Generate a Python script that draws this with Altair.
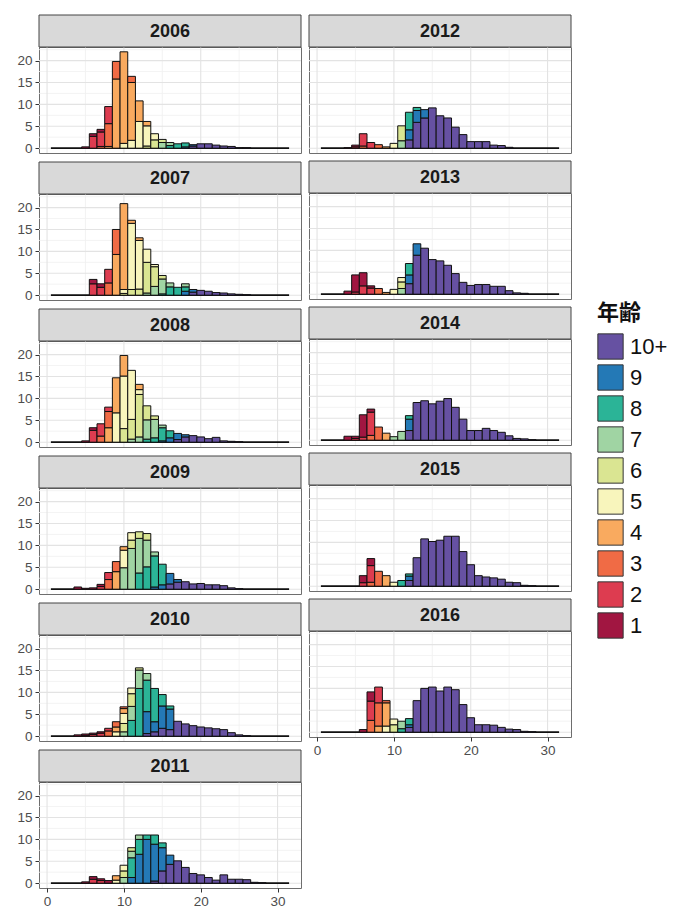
import altair as alt
import pandas as pd

AGES = ["1", "2", "3", "4", "5", "6", "7", "8", "9", "10+"]
AGE_COLORS = ["#A11641", "#DD3C50", "#F06B45", "#F9AA5F", "#F8F5BC",
              "#DAE592", "#A0D4A3", "#2BB497", "#2479B6", "#6651A2"]
BIN_CENTERS = list(range(1, 32))
YEARS_LEFT = [2006, 2007, 2008, 2009, 2010, 2011]
YEARS_RIGHT = [2012, 2013, 2014, 2015, 2016]
X_MAJOR = [0, 10, 20, 30]
X_MINOR = [5, 15, 25]
Y_MAJOR = [0, 5, 10, 15, 20]
Y_MINOR = [2.5, 7.5, 12.5, 17.5, 22.5]

# counts per bin: {bin centre: {age: count}}
C2006 = {5: {"1": 0.3}, 6: {"2": 2.7, "1": 0.6}, 7: {"3": 0.4, "2": 3.3, "1": 0.6},
         8: {"4": 0.4, "3": 5.2, "2": 3.9}, 9: {"4": 15.8, "3": 4.0}, 10: {"5": 1.1, "4": 20.9},
         11: {"5": 1.8, "4": 13.2, "3": 1.4}, 12: {"5": 6.1, "4": 4.7}, 13: {"6": 0.5, "5": 4.6, "4": 1.0},
         14: {"6": 1.9, "5": 1.4}, 15: {"7": 1.3, "6": 0.7}, 16: {"8": 0.6, "7": 0.7}, 17: {"8": 1.0},
         18: {"9": 0.3, "8": 0.9}, 19: {"10+": 0.5, "9": 0.3}, 20: {"10+": 1.0}, 21: {"10+": 1.0},
         22: {"10+": 0.7}, 23: {"10+": 0.5}, 24: {"10+": 0.4}, 25: {"10+": 0.1}, 26: {"10+": 0.1}}
C2007 = {6: {"2": 2.6, "1": 1.0}, 7: {"2": 1.8, "1": 0.8}, 8: {"3": 2.8, "2": 3.1}, 9: {"4": 9.3, "3": 5.7},
         10: {"6": 0.4, "5": 0.9, "4": 19.6}, 11: {"6": 1.3, "5": 15.1, "4": 0.7},
         12: {"6": 1.4, "5": 11.1, "4": 0.6}, 13: {"7": 0.5, "6": 7.0, "5": 3.0},
         14: {"7": 2.0, "6": 4.5, "5": 0.5}, 15: {"8": 0.3, "7": 3.4, "6": 0.8}, 16: {"8": 1.9, "7": 0.9},
         17: {"8": 1.8}, 18: {"9": 0.9, "8": 1.0, "7": 0.7}, 19: {"10+": 0.7, "9": 0.6}, 20: {"10+": 1.1},
         21: {"10+": 0.9}, 22: {"10+": 0.6}, 23: {"10+": 0.5}, 24: {"10+": 0.3}, 25: {"10+": 0.2},
         26: {"10+": 0.1}}
C2008 = {5: {"1": 0.3}, 6: {"2": 2.7, "1": 0.6}, 7: {"3": 1.4, "2": 2.8}, 8: {"4": 3.3, "3": 3.7, "2": 1.0},
         9: {"5": 6.7, "4": 8.0}, 10: {"6": 3.1, "5": 12.0, "4": 4.7}, 11: {"7": 0.7, "6": 4.5, "5": 11.2},
         12: {"7": 1.2, "6": 9.7, "5": 1.1, "4": 1.2}, 13: {"8": 0.7, "7": 4.4, "6": 3.2},
         14: {"8": 1.0, "7": 4.2, "6": 0.8}, 15: {"9": 0.3, "8": 3.0, "7": 0.6}, 16: {"9": 1.0, "8": 1.6},
         17: {"10+": 0.6, "9": 1.4}, 18: {"10+": 1.2, "9": 0.5}, 19: {"10+": 1.5}, 20: {"10+": 1.2},
         21: {"10+": 0.8}, 22: {"10+": 1.1}, 23: {"10+": 0.3}, 24: {"10+": 0.2}, 25: {"10+": 0.1}}
C2009 = {4: {"1": 0.5}, 5: {"1": 0.2}, 6: {"1": 0.3}, 7: {"2": 0.6, "1": 0.5}, 8: {"3": 2.2, "2": 1.6},
         9: {"4": 4.0, "3": 2.3}, 10: {"7": 4.9, "5": 4.0, "4": 0.8}, 11: {"7": 9.3, "6": 1.9, "5": 1.7},
         12: {"8": 3.7, "7": 7.9, "6": 1.5}, 13: {"8": 5.1, "7": 6.1, "6": 1.5},
         14: {"9": 0.5, "8": 7.1, "7": 0.9}, 15: {"9": 1.0, "8": 4.7}, 16: {"10+": 1.2, "9": 2.4},
         17: {"10+": 1.6, "9": 0.6}, 18: {"10+": 1.7}, 19: {"10+": 1.2}, 20: {"10+": 1.3},
         21: {"10+": 1.0}, 22: {"10+": 1.0}, 23: {"10+": 0.8}, 24: {"10+": 0.3}, 25: {"10+": 0.1}}
C2010 = {4: {"1": 0.3}, 5: {"2": 0.2, "1": 0.3}, 6: {"2": 0.4, "1": 0.3}, 7: {"2": 0.7, "1": 0.3},
         8: {"3": 1.2, "2": 0.6}, 9: {"5": 1.0, "4": 1.1, "3": 1.2},
         10: {"7": 1.0, "6": 1.9, "5": 2.3, "4": 1.1, "3": 0.4}, 11: {"8": 3.6, "7": 3.2, "6": 2.9, "5": 1.3},
         12: {"8": 10.9, "7": 4.2, "6": 0.5}, 13: {"10+": 0.6, "9": 5.0, "8": 7.2, "7": 1.5},
         14: {"10+": 1.0, "9": 2.3, "8": 7.6}, 15: {"10+": 1.8, "9": 5.1, "8": 2.6},
         16: {"10+": 1.5, "9": 4.7, "8": 0.7}, 17: {"10+": 3.4}, 18: {"10+": 2.8}, 19: {"10+": 2.4},
         20: {"10+": 2.1}, 21: {"10+": 1.9}, 22: {"10+": 1.7}, 23: {"10+": 1.5}, 24: {"10+": 0.8},
         25: {"10+": 0.3}, 26: {"10+": 0.1}}
C2011 = {5: {"1": 0.3}, 6: {"2": 0.9, "1": 0.6}, 7: {"2": 0.6, "1": 0.4}, 8: {"1": 0.6},
         9: {"5": 0.7, "4": 1.0}, 10: {"7": 1.3, "6": 1.5, "5": 1.3}, 11: {"9": 1.3, "8": 4.5, "7": 1.5, "6": 0.8},
         12: {"9": 6.6, "8": 3.4, "7": 1.0}, 13: {"9": 10.0, "8": 1.0}, 14: {"10+": 0.5, "9": 8.4, "8": 2.1},
         15: {"10+": 2.8, "9": 5.3, "8": 1.1}, 16: {"10+": 4.3, "9": 2.1}, 17: {"10+": 5.1}, 18: {"10+": 3.6},
         19: {"10+": 2.2}, 20: {"10+": 1.9}, 21: {"10+": 1.3}, 22: {"10+": 0.7}, 23: {"10+": 1.9},
         24: {"10+": 0.9}, 25: {"10+": 0.9}, 26: {"10+": 0.8}, 27: {"10+": 0.2}, 28: {"10+": 0.1}}
C2012 = {4: {"1": 0.1}, 5: {"2": 0.3, "1": 0.4}, 6: {"3": 0.5, "2": 2.8}, 7: {"2": 1.3}, 8: {"3": 0.8},
         9: {"4": 0.3}, 10: {"5": 1.1}, 11: {"7": 1.7, "6": 3.4}, 12: {"10+": 1.9, "9": 2.3, "8": 4.0},
         13: {"10+": 5.9, "9": 2.7, "8": 0.7}, 14: {"10+": 6.9, "9": 1.9}, 15: {"10+": 9.2},
         16: {"10+": 7.4}, 17: {"10+": 6.9}, 18: {"10+": 4.8}, 19: {"10+": 3.1}, 20: {"10+": 1.5},
         21: {"10+": 1.5}, 22: {"10+": 1.5}, 23: {"10+": 0.7}, 24: {"10+": 0.6}, 25: {"10+": 0.2}}
C2013 = {4: {"1": 0.7}, 5: {"2": 0.5, "1": 3.9}, 6: {"2": 1.9, "1": 3.0}, 7: {"2": 1.4, "1": 0.5},
         8: {"3": 1.3}, 9: {"4": 0.4}, 10: {"5": 1.1}, 11: {"7": 1.3, "6": 1.5, "5": 1.0},
         12: {"10+": 2.4, "9": 2.0, "8": 2.6}, 13: {"10+": 8.9, "9": 2.6}, 14: {"10+": 10.5},
         15: {"10+": 7.9}, 16: {"10+": 7.6}, 17: {"10+": 6.6}, 18: {"10+": 4.7}, 19: {"10+": 2.7},
         20: {"10+": 2.0}, 21: {"10+": 2.2}, 22: {"10+": 2.2}, 23: {"10+": 1.8}, 24: {"10+": 1.8},
         25: {"10+": 0.8}, 26: {"10+": 0.3}, 27: {"10+": 0.2}}
C2014 = {4: {"1": 0.9}, 5: {"2": 0.4, "1": 0.5}, 6: {"2": 0.7, "1": 5.1}, 7: {"3": 1.1, "2": 5.3, "1": 0.7},
         8: {"3": 3.0}, 9: {"4": 1.6}, 10: {"7": 0.8}, 11: {"7": 2.0}, 12: {"10+": 2.2, "9": 2.6, "8": 0.8},
         13: {"10+": 8.6}, 14: {"10+": 9.0}, 15: {"10+": 8.3}, 16: {"10+": 8.9}, 17: {"10+": 9.5},
         18: {"10+": 7.5}, 19: {"10+": 4.8}, 20: {"10+": 2.2}, 21: {"10+": 2.2}, 22: {"10+": 2.7},
         23: {"10+": 2.2}, 24: {"10+": 1.8}, 25: {"10+": 1.0}, 26: {"10+": 0.4}, 27: {"10+": 0.3},
         28: {"10+": 0.1}}
C2015 = {6: {"2": 0.8, "1": 1.6}, 7: {"3": 0.9, "2": 3.8, "1": 1.6}, 8: {"3": 3.4}, 9: {"4": 2.4},
         10: {"5": 0.9}, 11: {"8": 1.3}, 12: {"10+": 1.3, "9": 1.0, "8": 0.5}, 13: {"10+": 6.5},
         14: {"10+": 10.8}, 15: {"10+": 10.2}, 16: {"10+": 10.5}, 17: {"10+": 11.4}, 18: {"10+": 11.4},
         19: {"10+": 7.9}, 20: {"10+": 4.9}, 21: {"10+": 2.4}, 22: {"10+": 2.1}, 23: {"10+": 1.9},
         24: {"10+": 1.6}, 25: {"10+": 0.9}, 26: {"10+": 0.8}, 27: {"10+": 0.2}, 28: {"10+": 0.1}}
C2016 = {6: {"1": 0.6}, 7: {"3": 2.7, "2": 4.4, "1": 2.1}, 8: {"4": 1.4, "3": 5.3, "2": 3.6},
         9: {"5": 1.4, "4": 5.3, "3": 0.5}, 10: {"6": 1.7, "5": 1.3}, 11: {"8": 0.8, "7": 1.7},
         12: {"10+": 1.1, "9": 0.6, "8": 1.4}, 13: {"10+": 7.2}, 14: {"10+": 10.0}, 15: {"10+": 10.3},
         16: {"10+": 9.4}, 17: {"10+": 10.3}, 18: {"10+": 9.7}, 19: {"10+": 6.3}, 20: {"10+": 3.3},
         21: {"10+": 1.7}, 22: {"10+": 1.7}, 23: {"10+": 1.6}, 24: {"10+": 1.1}, 25: {"10+": 0.7},
         26: {"10+": 0.6}, 27: {"10+": 0.2}, 28: {"10+": 0.1}}

COUNTS = {2006: C2006, 2007: C2007, 2008: C2008, 2009: C2009, 2010: C2010, 2011: C2011,
          2012: C2012, 2013: C2013, 2014: C2014, 2015: C2015, 2016: C2016}

# ---- derived frames -------------------------------------------------------
def stack_frame(year):
    rows = []
    for b in BIN_CENTERS:
        segs = COUNTS[year].get(b, {})
        base = 0.0
        for age in reversed(AGES):          # oldest at the bottom, age 1 on top
            v = segs.get(age, 0)
            if v > 0:
                rows.append(dict(age=age, lo=b - 0.5, hi=b + 0.5, y0=base, y1=base + v))
                base += v
    return pd.DataFrame(rows)

FRAMES = {y: stack_frame(y) for y in COUNTS}
x_lo, x_hi = BIN_CENTERS[0] - 0.5, BIN_CENTERS[-1] + 0.5
x_pad = 0.05 * (x_hi - x_lo)
X_DOMAIN = [x_lo - x_pad, x_hi + x_pad]
y_max = max(f["y1"].max() for f in FRAMES.values())
Y_DOMAIN = [-0.05 * y_max, y_max * 1.05]

W, HS, HP = 262, 32, 106
GAP_V, GAP_H = 5, 4
MAJOR_GRID = "#E3E3E3"
MINOR_GRID = "#F0F0F0"

color_scale = alt.Scale(domain=AGES[::-1], range=AGE_COLORS[::-1])
legend = alt.Legend(title="年齢", orient="none", legendX=558, legendY=256,
                    symbolType="square", symbolSize=640, symbolStrokeColor="#333333",
                    symbolStrokeWidth=1, symbolOpacity=1, labelFontSize=22,
                    labelFont="Liberation Sans", labelColor="#111111", labelOffset=6,
                    titleFontSize=22, titleFont="Noto Sans CJK JP", titleFontWeight="bold",
                    titleColor="#111111", titlePadding=8, rowPadding=0)


def x_axis(show):
    if not show:
        return None
    return alt.Axis(values=X_MAJOR, title=None, domain=False, grid=False,
                    labelFontSize=13.5, labelColor="#4D4D4D", labelFont="Liberation Sans",
                    tickColor="#333333", tickSize=4, labelPadding=2)


def y_axis(show):
    if not show:
        return None
    return alt.Axis(values=Y_MAJOR, title=None, domain=False, grid=False,
                    labelFontSize=13.5, labelColor="#4D4D4D", labelFont="Liberation Sans",
                    tickColor="#333333", tickSize=4, labelPadding=3)


def panel(year, show_y, show_x):
    xs = alt.Scale(domain=X_DOMAIN, nice=False, zero=False)
    ys = alt.Scale(domain=Y_DOMAIN, nice=False, zero=False)
    xa, ya = x_axis(show_x), y_axis(show_y)

    def xenc(field):
        return alt.X(field, scale=xs, axis=xa) if xa is not None else alt.X(field, scale=xs, axis=None)

    def yenc(field):
        return alt.Y(field, scale=ys, axis=ya) if ya is not None else alt.Y(field, scale=ys, axis=None)

    vminor = alt.Chart(pd.DataFrame({"v": X_MINOR})).mark_rule(
        color=MINOR_GRID, strokeWidth=0.8).encode(x=xenc("v:Q"))
    hminor = alt.Chart(pd.DataFrame({"v": Y_MINOR})).mark_rule(
        color=MINOR_GRID, strokeWidth=0.8).encode(y=yenc("v:Q"))
    vmajor = alt.Chart(pd.DataFrame({"v": X_MAJOR})).mark_rule(
        color=MAJOR_GRID, strokeWidth=1.1).encode(x=xenc("v:Q"))
    hmajor = alt.Chart(pd.DataFrame({"v": Y_MAJOR})).mark_rule(
        color=MAJOR_GRID, strokeWidth=1.1).encode(y=yenc("v:Q"))
    base_df = pd.DataFrame({"x0": [x_lo], "x1": [x_hi], "y": [0]})
    baseline = alt.Chart(base_df).mark_rule(color="#111111", strokeWidth=1.8).encode(
        x=xenc("x0:Q"), x2="x1:Q", y=yenc("y:Q"))
    bars = alt.Chart(FRAMES[year]).mark_rect(stroke="#111111", strokeWidth=1).encode(
        x=xenc("lo:Q"), x2="hi:Q", y=yenc("y0:Q"), y2="y1:Q",
        color=alt.Color("age:N", scale=color_scale, legend=legend),
    )

    sdf = pd.DataFrame({"label": [str(year)]})
    sbox = alt.Chart(sdf).mark_rect(fill="#D9D9D9", stroke="#444444", strokeWidth=1).encode(
        x=alt.value(0), x2=alt.value(W), y=alt.value(-HS), y2=alt.value(0))
    stext = alt.Chart(sdf).mark_text(fontSize=18, fontWeight="bold", font="Liberation Sans",
                                     color="#1A1A1A", baseline="middle").encode(
        text="label:N", x=alt.value(W / 2), y=alt.value(-HS / 2 + 1))
    return alt.layer(vminor, hminor, vmajor, hmajor, baseline, bars, sbox, stext).properties(
        width=W, height=HP)


left = alt.vconcat(*[panel(y, True, y == YEARS_LEFT[-1]) for y in YEARS_LEFT], spacing=GAP_V)
right = alt.vconcat(*[panel(y, False, y == YEARS_RIGHT[-1]) for y in YEARS_RIGHT], spacing=GAP_V)

chart = alt.hconcat(left, right, spacing=GAP_H).properties(
    padding={"left": 8, "top": 6, "right": 5, "bottom": 2},
    background="white",
).configure_view(stroke="#6E6E6E", strokeWidth=1)

chart.save("out.html", embed_options={"renderer": "svg", "actions": False})
